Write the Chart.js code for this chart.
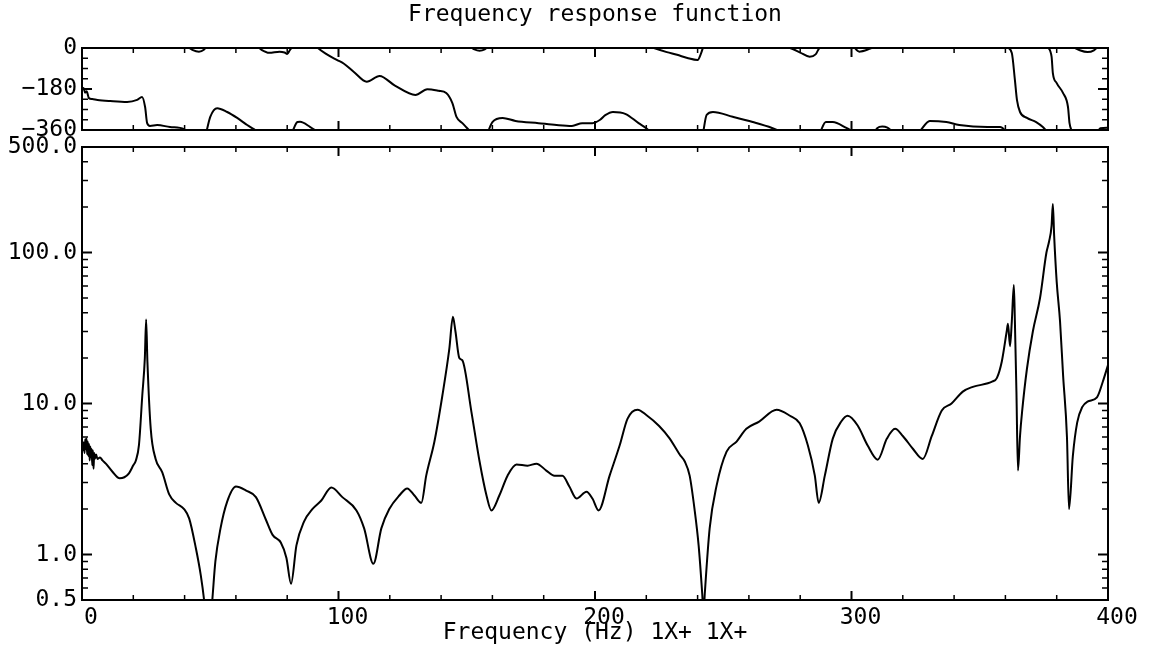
<!DOCTYPE html>
<html>
<head>
<meta charset="utf-8">
<title>Frequency response function</title>
<script src="https://cdn.jsdelivr.net/npm/chart.js@4.4.1/dist/chart.umd.min.js"></script>
<style>
  html, body { margin: 0; padding: 0; background: #fff; }
  #wrap { position: relative; width: 1151px; height: 654px; }
  canvas { position: absolute; left: 0; }
  #phaseChart { top: 0; }
  #magChart { top: 125px; }
</style>
</head>
<body>
<div id="wrap">
  <canvas id="phaseChart" width="1151" height="140"></canvas>
  <canvas id="magChart" width="1151" height="529"></canvas>
</div>
<script>
const FONT = "'DejaVu Sans Mono', monospace";

// ---------------- x axis (Hz) ----------------
const xTicks = [0, 100, 200, 300, 400];
const xMinorTicks = [20, 40, 60, 80, 120, 140, 160, 180, 220, 240, 260, 280, 320, 340, 360, 380];

// ---------------- phase panel (deg, wrapped to -360..0, null = wrap) ----------------
const phaseTicks = [-360, -180, 0];
const phaseMinorTicks = [-315, -270, -225, -135, -90, -45];

const phaseFreq = [
  0, 0.6, 1.2, 1.8, 2.7, 4, 6, 11, 17.6, 21.5, 23.4, 24.6, 25.4, 26.5, 29.3, 34.3, 39.8, 41, 41,
  41, 43, 45.6, 47.5, 48.5, 48.5,
  48.5, 50, 52.7, 56.6, 60.5, 64.4, 67, 68.5, 68.5,
  68.5, 70, 73, 77, 79, 80, 81, 82, 82,
  82, 84, 85, 89, 91.5, 91.5,
  91.5, 92, 95, 99.5, 102, 106, 111, 116, 122, 130, 134.6, 139, 142, 144.4, 146, 148.3, 150, 151.5, 151.5,
  151.5, 153, 155, 157, 158.3, 158.3,
  158.3, 160, 164, 169, 178, 185, 191, 195, 199, 202, 204, 207, 212, 217, 220, 221.5, 221.5,
  221.5, 223, 228, 232, 236, 240, 241.3, 242.2, 242.2,
  242.2, 243.5, 246, 253.7, 261.5, 269, 272.5, 272.5,
  272.5, 276, 280, 283.7, 286, 287, 287.8, 287.8,
  287.8, 290, 292.7, 298, 300.8, 300.8,
  300.8, 303, 307, 309, 309,
  309, 310, 312, 314, 316, 316,
  326.5, 330.5, 337, 342, 353, 358, 360.5, 360.5,
  360.5, 362.5, 363.7, 364.5, 365.7, 368.4, 372, 374.6, 376.3, 376.3,
  376.3, 378, 378.5, 380, 382.5, 384.4, 385, 386, 386,
  386, 389, 392, 394.5, 396, 396,
  396, 397, 400
];
const phaseDeg = [
  -184, -176, -196, -190, -220, -224, -228, -233, -237, -228, -215, -259, -330, -342, -338, -347, -356, -368, null,
  6, -8, -16, -8, 6, null,
  -368, -302, -264, -281, -307, -338, -356, -368, null,
  6, -8, -21, -16, -20, -26, -10, 6, null,
  -368, -325, -324, -347, -366, null,
  6, 0, -25, -53, -68, -105, -148, -123, -165, -206, -181, -188, -198, -242, -302, -330, -350, -368, null,
  6, -6, -12, -6, 6, null,
  -368, -325, -307, -320, -330, -338, -342, -330, -330, -315, -295, -281, -290, -330, -352, -368, null,
  6, 0, -18, -30, -44, -53, -25, 6, null,
  -368, -294, -281, -302, -325, -351, -368, null,
  6, 0, -20, -38, -28, -9, 6, null,
  -368, -325, -325, -351, -368, null,
  6, -16, -4, 6, null,
  -368, -352, -345, -350, -368, null,
  -368, -320, -325, -338, -347, -347, -368, null,
  6, -22, -140, -228, -281, -307, -325, -347, -368, null,
  6, -38, -110, -154, -198, -259, -330, -368, null,
  6, -10, -18, -10, 6, null,
  -368, -352, -350
];

// ---------------- magnitude panel (log) ----------------
const magTicks = [0.5, 1, 10, 100, 500];
const magTickLabels = ["0.5", "1.0", "10.0", "100.0", "500.0"];
const magMinorTicks = [0.6, 0.7, 0.8, 0.9, 2, 3, 4, 5, 6, 7, 8, 9, 20, 30, 40, 50, 60, 70, 80, 90, 200, 300, 400];

const magFreq = [
  0, 0.25, 0.5, 0.75, 1.0, 1.25, 1.5, 1.75, 2.0, 2.25, 2.5, 2.75, 3.0, 3.25, 3.5, 3.75, 4.0, 4.25, 4.5, 4.75,
  5.0, 5.5, 6.0, 7.0, 8.0, 9.3,
  11.8, 14.7, 16.5, 18.3, 20, 21, 22.2, 23.5, 24.5, 25.0, 25.5, 26.8, 28.7, 31.3, 34, 36.6, 39.8,
  41.8, 44.4, 46.3, 47.6, 48.5, 50, 50.8, 52, 54, 56.6, 60, 64, 67.8, 71.7, 74.3, 77.5, 79.7, 81.5,
  83.6, 86.6, 89.8, 93.3, 97.2, 101.5, 107, 110, 113.6, 116.7, 119.8, 123.7, 126.8, 129.6, 132.3,
  134.2, 137.4, 140.5, 143.2, 144.6, 145.6, 147.1, 148.3, 151.8, 155, 157.7, 159.6, 162.7, 165.9,
  169.4, 173.7, 177.2, 181, 184.2, 187.3, 190, 192.8, 196.7, 199, 201.4, 205.7, 209.6, 212.7, 216.6,
  220, 225, 229, 233, 235, 236.9, 238.8, 240.4, 241.8, 242.3, 242.8, 244.7, 247.4, 251.3, 255.2,
  259, 264, 270.8, 276, 279.8, 283, 285.7, 287.2, 289.6, 292.7, 296, 298.5, 302.4, 306.3, 310.2,
  313.8, 317, 320, 324, 327.8, 331.3, 335.2, 339, 343.4, 347.3, 355, 356.7, 358.6, 360.5, 361,
  361.8, 362.5, 363.3, 363.7, 364.3, 364.9, 365.7, 366.5, 368.4, 370.7, 373.5, 376, 377, 378, 378.5,
  379, 380, 381.3, 382.5, 384, 384.8, 386.3, 388, 390, 392, 395.7, 398, 400
];
const magVal = [
  5.0, 5.6, 4.9, 5.5, 4.7, 5.8, 5.0, 5.9, 4.6, 5.6, 4.5, 5.4, 4.2, 5.2, 4.4, 5.0, 3.9, 4.9, 3.7, 4.7,
  4.3, 4.6, 4.3, 4.4, 4.2, 4.0,
  3.55, 3.2, 3.25, 3.45, 3.9, 4.2, 5.3, 11.3, 20, 36, 19, 6.8, 4.3, 3.5, 2.5, 2.2, 2.0,
  1.73, 1.1, 0.73, 0.5, 0.35, 0.35, 0.5, 0.9, 1.49, 2.24, 2.82, 2.65, 2.4, 1.7, 1.35, 1.2, 0.95, 0.64,
  1.15, 1.66, 2.0, 2.28, 2.78, 2.4, 1.96, 1.49, 0.87, 1.49, 2.0, 2.46, 2.74, 2.46, 2.2,
  3.33, 5.6, 11.3, 23, 37.5, 30, 20, 19.3, 8.85, 4.13, 2.46, 1.96, 2.46, 3.33,
  3.95, 3.88, 4.0, 3.6, 3.33, 3.33, 2.82, 2.35, 2.61, 2.35, 1.96, 3.33, 5.27, 7.95, 9.1,
  8.4, 7.1, 5.9, 4.6, 4.13, 3.33, 2.0, 1.15, 0.55, 0.4, 0.55, 1.49, 2.86, 4.8, 5.6,
  6.8, 7.6, 9.1, 8.3, 7.4, 5.27, 3.33, 2.2, 3.33, 5.86, 7.6, 8.3, 7.15, 5.27, 4.25,
  5.86, 6.8, 6.1, 5.0, 4.3, 6.1, 9.0, 10, 12, 12.9, 14, 14.8, 19, 30, 33.8,
  24, 35, 61, 35, 12, 3.6, 6.1, 8.8, 17, 30, 50, 100, 118, 150, 210,
  130, 64, 35, 15.3, 6, 2.0, 4.5, 7.5, 9.5, 10.3, 11, 14, 18
];

// frame + inward tick marks on all four sides, placed through the chart's scales
function frameTicks(yMajor, yMinor) {
  return {
    id: "frameTicks",
    afterDatasetsDraw(chart) {
      const { ctx, chartArea: a } = chart;
      const sx = chart.scales.x, sy = chart.scales.y;
      ctx.save();
      ctx.strokeStyle = "#000";
      const xt = (v, len, w) => {
        const px = sx.getPixelForValue(v);
        ctx.lineWidth = w;
        ctx.beginPath();
        ctx.moveTo(px, a.bottom); ctx.lineTo(px, a.bottom - len);
        ctx.moveTo(px, a.top); ctx.lineTo(px, a.top + len);
        ctx.stroke();
      };
      const yt = (v, len, w) => {
        const py = sy.getPixelForValue(v);
        ctx.lineWidth = w;
        ctx.beginPath();
        ctx.moveTo(a.left, py); ctx.lineTo(a.left + len, py);
        ctx.moveTo(a.right, py); ctx.lineTo(a.right - len, py);
        ctx.stroke();
      };
      xTicks.forEach(v => xt(v, 9, 2));
      xMinorTicks.forEach(v => xt(v, 5, 1.5));
      yMajor.forEach(v => yt(v, 10, 2));
      yMinor.forEach(v => yt(v, 6, 1.5));
      ctx.lineWidth = 2;
      ctx.strokeRect(a.left, a.top, a.right - a.left, a.bottom - a.top);
      ctx.restore();
    }
  };
}

function xScale(showLabels) {
  return {
    type: "linear",
    min: 0,
    max: 400,
    grid: { display: false, drawTicks: false },
    border: { display: false },
    ticks: {
      display: showLabels,
      stepSize: 100,
      autoSkip: false,
      maxRotation: 0,
      color: "#000",
      font: { family: FONT, size: 23 },
      padding: 4,
      labelOffset: 9
    },
    title: {
      display: showLabels,
      text: "Frequency (Hz) 1X+ 1X+",
      color: "#000",
      font: { family: FONT, size: 23 },
      padding: { top: 0, bottom: 7 }
    },
    afterBuildTicks(s) { s.ticks = xTicks.map(v => ({ value: v })); },
    afterFit(s) {
      s.height = showLabels ? 54 : 10;
      s.paddingLeft = 0;
      s.paddingRight = 0;
    }
  };
}

function yFit(s) {
  s.width = 82;
  s.paddingTop = 0;
  s.paddingBottom = 0;
}

const lineStyle = {
  borderColor: "#000",
  borderWidth: 2,
  pointRadius: 0,
  fill: false,
  spanGaps: false,
  cubicInterpolationMode: "monotone"
};

// ---------------- phase chart ----------------
new Chart(document.getElementById("phaseChart"), {
  type: "line",
  data: {
    datasets: [{
      ...lineStyle,
      data: phaseFreq.map((f, i) => ({ x: f, y: phaseDeg[i] }))
    }]
  },
  options: {
    responsive: false,
    animation: false,
    events: [],
    layout: { padding: { left: 0, right: 43, top: 0, bottom: 0 } },
    scales: {
      x: xScale(false),
      y: {
        type: "linear",
        min: -360,
        max: 0,
        grid: { display: false, drawTicks: false },
        border: { display: false },
        afterBuildTicks(s) { s.ticks = phaseTicks.map(v => ({ value: v })); },
        ticks: {
          color: "#000",
          font: { family: FONT, size: 23 },
          padding: 5,
          callback: v => (v < 0 ? "\u2212" + Math.abs(v) : String(v))
        },
        afterFit: yFit
      }
    },
    plugins: {
      legend: { display: false },
      tooltip: { enabled: false },
      title: {
        display: true,
        text: "Frequency response function",
        fullSize: false,
        color: "#000",
        font: { family: FONT, size: 23, weight: "normal" },
        padding: { top: 1, bottom: 19.4 }
      }
    }
  },
  plugins: [frameTicks(phaseTicks, phaseMinorTicks)]
});

// ---------------- magnitude chart ----------------
new Chart(document.getElementById("magChart"), {
  type: "line",
  data: {
    datasets: [{
      ...lineStyle,
      data: magFreq.map((f, i) => ({ x: f, y: magVal[i] }))
    }]
  },
  options: {
    responsive: false,
    animation: false,
    events: [],
    layout: { padding: { left: 0, right: 43, top: 22, bottom: 0 } },
    scales: {
      x: xScale(true),
      y: {
        type: "logarithmic",
        min: 0.5,
        max: 500,
        grid: { display: false, drawTicks: false },
        border: { display: false },
        afterBuildTicks(s) { s.ticks = magTicks.map(v => ({ value: v })); },
        ticks: {
          color: "#000",
          font: { family: FONT, size: 23 },
          padding: 5,
          callback: (v, i) => magTickLabels[i]
        },
        afterFit: yFit
      }
    },
    plugins: {
      legend: { display: false },
      tooltip: { enabled: false }
    }
  },
  plugins: [frameTicks(magTicks, magMinorTicks)]
});
</script>
</body>
</html>
